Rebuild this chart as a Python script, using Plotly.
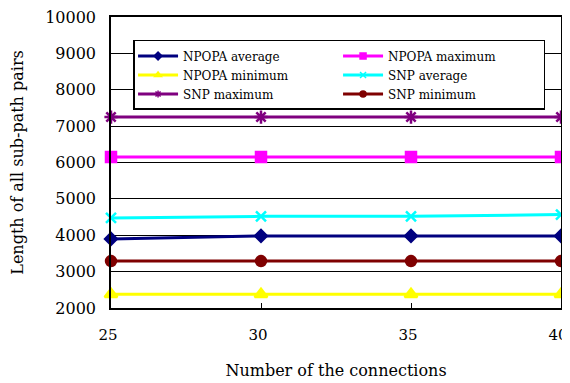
import plotly.graph_objects as go

connections = [25, 30, 35, 40]
npopa_average = [3900, 3980, 3980, 3980]
npopa_maximum = [6150, 6150, 6150, 6150]
npopa_minimum = [2380, 2380, 2380, 2380]
snp_average = [4475, 4520, 4520, 4570]
snp_maximum = [7250, 7250, 7250, 7250]
snp_minimum = [3290, 3290, 3290, 3290]

series = [
    ("NPOPA average", npopa_average, "#00007f", "diamond", 9),
    ("NPOPA maximum", npopa_maximum, "#ff00ff", "square", 10),
    ("NPOPA minimum", npopa_minimum, "#ffff00", "triangle-up", 11),
    ("SNP average", snp_average, "#00ffff", "x-thin-open", 10),
    ("SNP maximum", snp_maximum, "#7f007f", "asterisk-open", 11),
    ("SNP minimum", snp_minimum, "#7f0000", "circle", 10),
]

font = "DejaVu Serif, serif"
fig = go.Figure()
for name, vals, color, sym, size in series:
    fig.add_trace(go.Scatter(
        x=connections, y=vals, name=name, mode="lines+markers",
        line=dict(color=color, width=3), legendgroup=name, showlegend=False,
        marker=dict(symbol=sym, size=size, color=color, line=dict(color=color, width=2.5)),
        cliponaxis=False,
    ))
for name, vals, color, sym, size in series:
    fig.add_trace(go.Scatter(
        x=[None], y=[None], name=name, mode="lines+markers",
        line=dict(color=color, width=3), legendgroup=name, showlegend=True,
        marker=dict(symbol=sym, size=6, color=color, line=dict(color=color, width=1.5)),
    ))

# page body has an 8px default margin, so the figure is drawn 8px smaller and offset
fig.update_layout(
    width=562, height=375,
    margin=dict(l=103, r=9, t=9, b=75),
    paper_bgcolor="white", plot_bgcolor="white",
    font=dict(family=font, size=14, color="black"),
    showlegend=True,
    legend=dict(
        orientation="h", x=0.049, y=0.921, xanchor="left", yanchor="top",
        bgcolor="white", bordercolor="black", borderwidth=1.5,
        entrywidth=150, entrywidthmode="pixels",
        font=dict(family=font, size=12, color="black"),
        itemwidth=40, tracegroupgap=0,
    ),
    xaxis=dict(
        range=[25, 40], tickvals=connections, ticks="inside", ticklen=5,
        tickcolor="black", showgrid=False, zeroline=False, automargin=False,
        showline=True, linecolor="black", linewidth=1.5, mirror=True,
        tickfont=dict(size=15), ticklabelstandoff=12, ticklabeloverflow="allow",
        ticklabelshift=-3,
        title=dict(text="Number of the connections", font=dict(size=16), standoff=22),
    ),
    yaxis=dict(
        range=[2000, 10000], dtick=1000, ticks="", showgrid=True, tickformat="d",
        gridcolor="black", gridwidth=1, zeroline=False, automargin=False,
        showline=True, linecolor="black", linewidth=1.5, mirror=True,
        tickfont=dict(size=16), ticklabelstandoff=10, ticklabeloverflow="allow",
        title=dict(text="Length of all sub-path pairs", font=dict(size=16), standoff=28),
    ),
)

fig.write_html("out.html")
